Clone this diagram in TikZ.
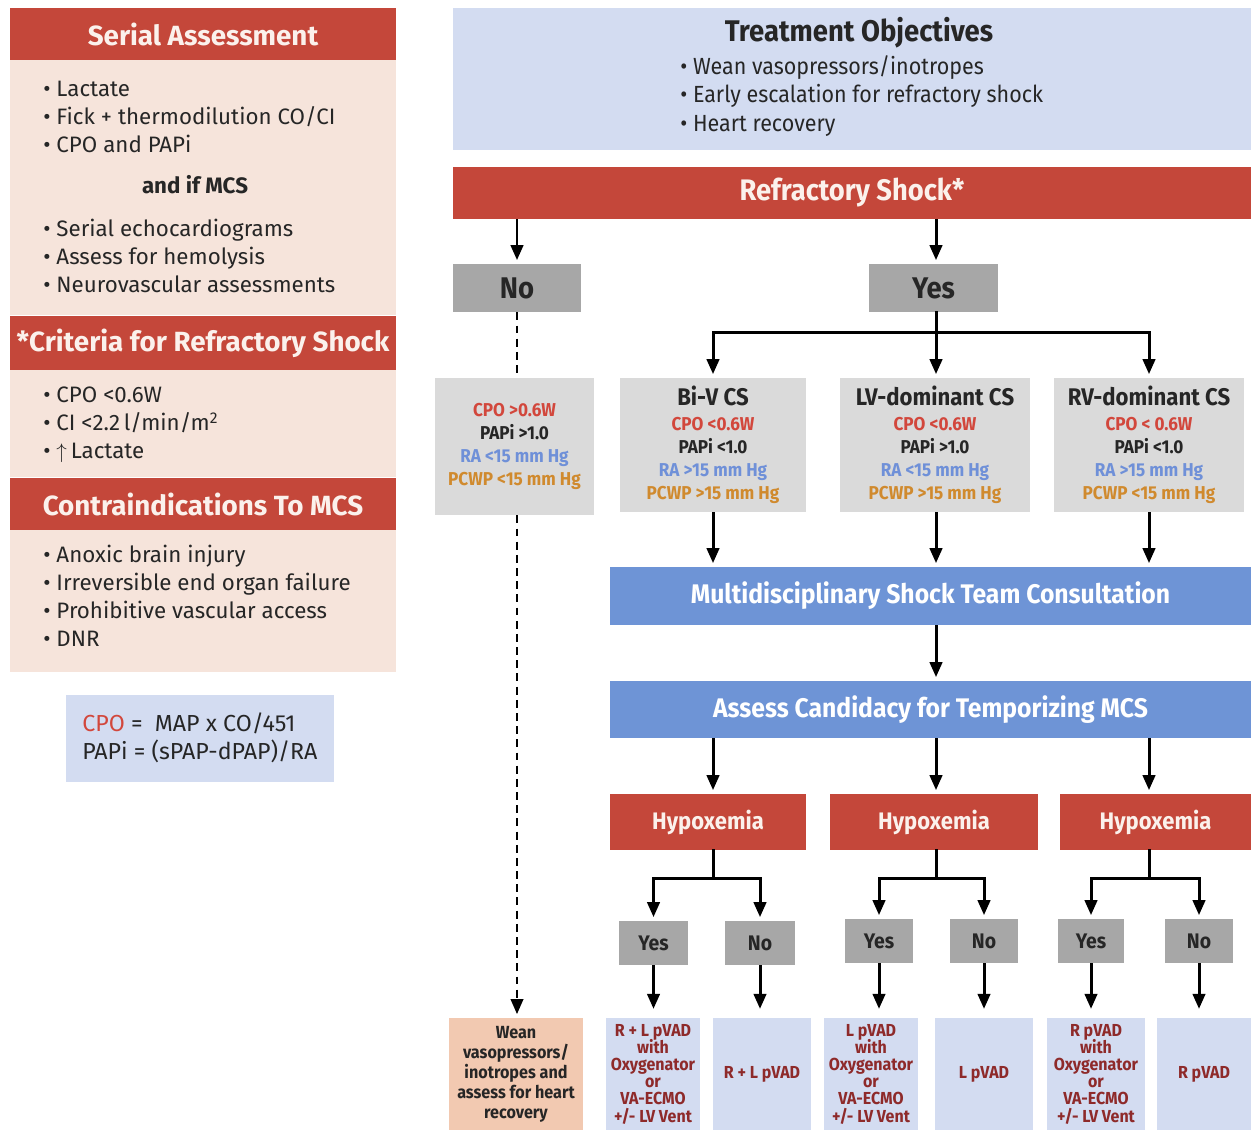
\documentclass[tikz,border=0pt]{standalone}
\usepackage{fontspec}
\setmainfont{Fira Sans}
\newfontfamily\condfont[FakeStretch=0.92]{Fira Sans}
\usetikzlibrary{positioning, arrows.meta}

\definecolor{headred}{HTML}{C4473A}
\definecolor{bodypeach}{HTML}{F6E4DB}
\definecolor{paleblue}{HTML}{D3DCF1}
\definecolor{barblue}{HTML}{6E94D6}
\definecolor{btngray}{HTML}{A7A7A7}
\definecolor{critgray}{HTML}{DADADA}
\definecolor{weanpeach}{HTML}{F2C9B1}
\definecolor{cpored}{HTML}{D2473C}
\definecolor{rablue}{HTML}{6F90D8}
\definecolor{pcwporange}{HTML}{D08A2E}
\definecolor{devred}{HTML}{8E2A2A}
\definecolor{inkdark}{HTML}{262626}
\definecolor{headtext}{HTML}{FBF1EC}

\newcommand{\cpotxt}[1]{\textcolor{cpored}{#1}}
\newcommand{\ratxt}[1]{\textcolor{rablue}{#1}}
\newcommand{\pcwptxt}[1]{\textcolor{pcwporange}{#1}}
\newcommand{\tightlines}{\setlength{\lineskiplimit}{-6pt}}

\tikzset{
box/.style={rectangle, inner sep=0pt, draw=none},
redhead/.style={box, fill=headred, text=headtext, font=\bfseries\fontsize{15.8}{18}\selectfont},
peachbody/.style={box, fill=bodypeach},
bullets/.style={align=left, text=inkdark, inner sep=0pt, font=\fontsize{12.7}{16}\selectfont},
redbar/.style={box, fill=headred, text=headtext, font=\condfont\bfseries\fontsize{16.9}{19}\selectfont},
bluebox/.style={box, fill=paleblue},
bluebar/.style={box, fill=barblue, text=white, font=\condfont\bfseries\fontsize{15.3}{18}\selectfont},
bigbtn/.style={box, fill=btngray, text=inkdark, font=\condfont\bfseries\fontsize{17}{19}\selectfont},
critbox/.style={box, fill=critgray, text=inkdark, align=center, font=\condfont\bfseries\fontsize{10.6}{13.2}\selectfont},
hypbox/.style={box, fill=headred, text=headtext, font=\condfont\bfseries\fontsize{13.6}{16}\selectfont},
choicebox/.style={box, fill=btngray, text=inkdark, font=\condfont\bfseries\fontsize{12}{15}\selectfont},
devicebox/.style={box, fill=paleblue, text=devred, align=center, font=\condfont\bfseries\fontsize{9.9}{9.8}\selectfont\tightlines},
weanbox/.style={box, fill=weanpeach, text=inkdark, align=center, font=\condfont\bfseries\fontsize{10}{11.4}\selectfont\tightlines},
flow/.style={-{Triangle[width=7pt,length=8.5pt]}, line width=1.7pt, shorten >=2pt},
trunk/.style={line width=1.7pt, line cap=rect},
dashline/.style={line width=1.4pt, dash pattern=on 4.5pt off 3pt},
dashflow/.style={dashline, -{Triangle[width=7pt,length=8.5pt]}, shorten >=2pt},
}

\begin{document}
\begin{tikzpicture}[x=0.02cm, y=-0.02cm]
\useasboundingbox (0,0) rectangle (1251,1130);

% Left column
\node[redhead, minimum width=7.72cm, minimum height=1.04cm] (serialhead) at (203,34) {Serial Assessment};
\node[peachbody, minimum width=7.72cm, minimum height=5.10cm] (serialbody) at (203,187.5) {};
\node[bullets, anchor=west] (seriallist) at (43,117) {• Lactate\\• Fick + thermodilution CO/CI\\• CPO and PAPi};
\node[bullets, font=\bfseries\fontsize{12.7}{16}\selectfont] (ifmcs) at (195,185) {and if MCS};
\node[bullets, anchor=west] (mcslist) at (43,256) {• Serial echocardiograms\\• Assess for hemolysis\\• Neurovascular assessments};

\node[redhead, minimum width=7.72cm, minimum height=1.08cm] (critehead) at (203,343) {*Criteria for Refractory Shock};
\node[peachbody, minimum width=7.72cm, minimum height=2.14cm] (critebody) at (203,423.5) {};
\node[bullets, anchor=west] (critelist) at (43,425) {• CPO <0.6W\\• CI <2.2\,l/min/m\textsuperscript{2}\\• $\uparrow$\,Lactate};

\node[redhead, minimum width=7.72cm, minimum height=1.04cm] (contrahead) at (203,504) {Contraindications To MCS};
\node[peachbody, minimum width=7.72cm, minimum height=2.84cm] (contrabody) at (203,601) {};
\node[bullets, anchor=west] (contralist) at (43,596) {• Anoxic brain injury\\• Irreversible end organ failure\\• Prohibitive vascular access\\• DNR};

\node[bluebox, minimum width=5.36cm, minimum height=1.74cm] (formula) at (200,738.5) {};
\node[bullets, anchor=west, font=\fontsize{13.2}{16}\selectfont] (formulatext) at (82,738) {\textcolor{cpored}{CPO} =\ \ MAP x CO/451\\PAPi = (sPAP-dPAP)/RA};

% Objectives and refractory shock
\node[bluebox, minimum width=15.96cm, minimum height=2.84cm] (objectives) at (852,79) {};
\node[text=inkdark, font=\condfont\bfseries\fontsize{17}{19}\selectfont] (objtitle) at (859,33) {Treatment Objectives};
\node[bullets, anchor=west, font=\condfont\fontsize{13.3}{16}\selectfont] (objlist) at (680,96) {• Wean vasopressors/inotropes\\• Early escalation for refractory shock\\• Heart recovery};
\node[redbar, minimum width=15.96cm, minimum height=1.04cm] (shock) at (852,193) {Refractory Shock*};

\node[bigbtn, minimum width=2.56cm, minimum height=0.96cm] (no) at (517,288) {No};
\node[bigbtn, minimum width=2.58cm, minimum height=0.96cm] (yes) at (933.5,288) {Yes};
\coordinate (yesfork) at (936,332);

% Hemodynamic profiles
\node[critbox, minimum width=3.18cm, minimum height=2.74cm] (nocrit) at (514.5,446.5) {\cpotxt{CPO >0.6W}\\PAPi >1.0\\\ratxt{RA <15 mm Hg}\\\pcwptxt{PCWP <15 mm Hg}};
\node[critbox, minimum width=3.72cm, minimum height=2.68cm] (biv) at (713,445) {{\fontsize{13.7}{16}\selectfont Bi-V CS}\\[1pt]\cpotxt{CPO <0.6W}\\PAPi <1.0\\\ratxt{RA >15 mm Hg}\\\pcwptxt{PCWP >15 mm Hg}};
\node[critbox, minimum width=3.80cm, minimum height=2.68cm] (lvd) at (935,445) {{\fontsize{13.7}{16}\selectfont LV-dominant CS}\\[1pt]\cpotxt{CPO <0.6W}\\PAPi >1.0\\\ratxt{RA <15 mm Hg}\\\pcwptxt{PCWP >15 mm Hg}};
\node[critbox, minimum width=3.80cm, minimum height=2.68cm] (rvd) at (1149,445) {{\fontsize{13.7}{16}\selectfont RV-dominant CS}\\[1pt]\cpotxt{CPO < 0.6W}\\PAPi <1.0\\\ratxt{RA >15 mm Hg}\\\pcwptxt{PCWP <15 mm Hg}};

\node[bluebar, minimum width=12.82cm, minimum height=1.16cm] (team) at (930.5,596) {Multidisciplinary Shock Team Consultation};
\node[bluebar, minimum width=12.82cm, minimum height=1.14cm] (assess) at (930.5,709.5) {Assess Candidacy for Temporizing MCS};

% Hypoxemia branches
\node[hypbox, minimum width=3.92cm, minimum height=1.12cm] (hyp1) at (708,822) {Hypoxemia};
\node[hypbox, minimum width=4.16cm, minimum height=1.12cm] (hyp2) at (934,822) {Hypoxemia};
\node[hypbox, minimum width=3.82cm, minimum height=1.12cm] (hyp3) at (1155.5,822) {Hypoxemia};

\node[choicebox, minimum width=1.38cm, minimum height=0.88cm] (yes1) at (653.5,943) {Yes};
\node[choicebox, minimum width=1.40cm, minimum height=0.88cm] (no1) at (760,943) {No};
\node[choicebox, minimum width=1.36cm, minimum height=0.88cm] (yes2) at (879,941) {Yes};
\node[choicebox, minimum width=1.36cm, minimum height=0.88cm] (no2) at (984,941) {No};
\node[choicebox, minimum width=1.32cm, minimum height=0.88cm] (yes3) at (1091,941) {Yes};
\node[choicebox, minimum width=1.36cm, minimum height=0.88cm] (no3) at (1199,941) {No};

% Outcomes
\node[weanbox, minimum width=2.68cm, minimum height=2.24cm] (wean) at (516,1074) {Wean\\vasopressors/\\inotropes and\\assess for heart\\recovery};
\node[devicebox, minimum width=1.88cm, minimum height=2.24cm] (rlox) at (653,1074) {R + L pVAD\\with\\Oxygenator\\or\\VA-ECMO\\+/- LV Vent};
\node[devicebox, minimum width=1.96cm, minimum height=2.24cm] (rl) at (762,1074) {R + L pVAD};
\node[devicebox, minimum width=1.88cm, minimum height=2.24cm] (lox) at (871,1074) {L pVAD\\with\\Oxygenator\\or\\VA-ECMO\\+/- LV Vent};
\node[devicebox, minimum width=1.96cm, minimum height=2.24cm] (lonly) at (984,1074) {L pVAD};
\node[devicebox, minimum width=1.96cm, minimum height=2.24cm] (rox) at (1096,1074) {R pVAD\\with\\Oxygenator\\or\\VA-ECMO\\+/- LV Vent};
\node[devicebox, minimum width=1.88cm, minimum height=2.24cm] (ronly) at (1204,1074) {R pVAD};

% Transitions from refractory shock
\draw[flow] (shock.south -| no) -- (no);
\draw[flow] (shock.south -| yesfork) -- (yes.north -| yesfork);

% No path (dashed)
\draw[dashline] (no) -- (no |- nocrit.north);
\draw[dashflow] (nocrit.south -| no) -- (wean.north -| no);

% Yes path splits into CS types
\draw[trunk] (yes.south -| yesfork) -- (yesfork);
\draw[trunk] (yesfork -| biv) -- (yesfork -| rvd);
\draw[flow] (yesfork -| biv) -- (biv);
\draw[flow] (yesfork) -- (lvd.north -| yesfork);
\draw[flow] (yesfork -| rvd) -- (rvd);

% CS types to shock team
\draw[flow] (biv) -- (biv |- team.north);
\draw[flow] (lvd.south -| yesfork) -- (team.north -| yesfork);
\draw[flow] (rvd) -- (rvd |- team.north);
\draw[flow] (team.south -| yesfork) -- (assess.north -| yesfork);

% Candidacy to hypoxemia
\draw[flow] (assess.south -| biv) -- (hyp1.north -| biv);
\draw[flow] (assess.south -| yesfork) -- (hyp2.north -| yesfork);
\draw[flow] (assess.south -| rvd) -- (hyp3.north -| rvd);

% Hypoxemia to yes / no
\draw[trunk] (hyp1.south -| biv) -- ++(0,28) coordinate (fork1);
\draw[trunk] (fork1 -| yes1) -- (fork1 -| no1);
\draw[flow] (fork1 -| yes1) -- (yes1);
\draw[flow] (fork1 -| no1) -- (no1);
\draw[trunk] (hyp2.south -| yesfork) -- ++(0,28) coordinate (fork2);
\draw[trunk] (fork2 -| yes2) -- (fork2 -| no2);
\draw[flow] (fork2 -| yes2) -- (yes2);
\draw[flow] (fork2 -| no2) -- (no2);
\draw[trunk] (hyp3.south -| rvd) -- ++(0,28) coordinate (fork3);
\draw[trunk] (fork3 -| yes3) -- (fork3 -| no3);
\draw[flow] (fork3 -| yes3) -- (yes3);
\draw[flow] (fork3 -| no3) -- (no3);

% Yes / no to devices
\draw[flow, shorten >=5pt] (yes1) -- (yes1 |- rlox.north);
\draw[flow, shorten >=5pt] (no1) -- (no1 |- rl.north);
\draw[flow, shorten >=5pt] (yes2) -- (yes2 |- lox.north);
\draw[flow, shorten >=5pt] (no2) -- (no2 |- lonly.north);
\draw[flow, shorten >=5pt] (yes3) -- (yes3 |- rox.north);
\draw[flow, shorten >=5pt] (no3) -- (no3 |- ronly.north);
\end{tikzpicture}
\end{document}
